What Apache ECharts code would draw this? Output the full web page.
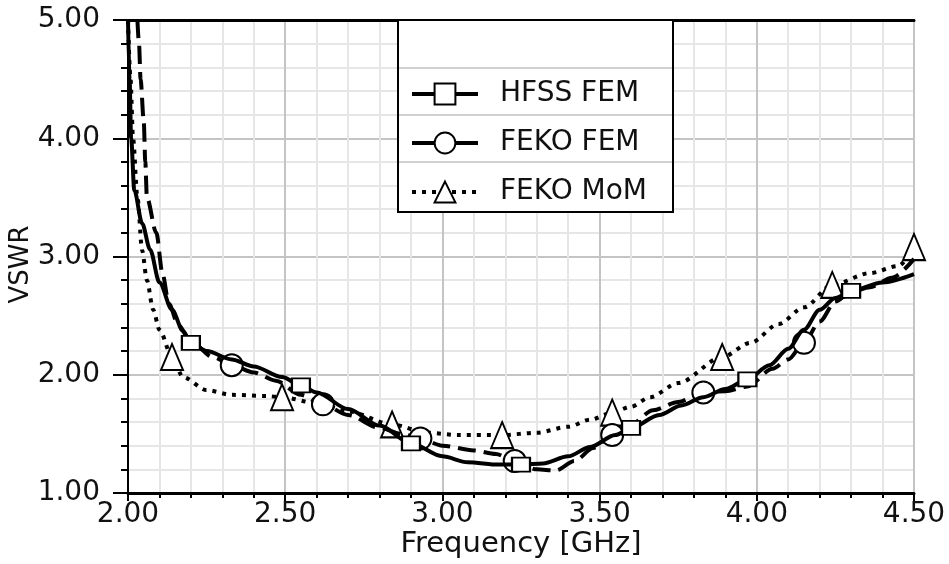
<!DOCTYPE html>
<html lang="en">
<head>
  <meta charset="UTF-8">
  <title>VSWR vs Frequency</title>
  <style>
    html, body { margin: 0; padding: 0; background: #fff; }
    #chart { width: 949px; height: 564px; }
  </style>
</head>
<body>
  <div id="chart"></div>
  <script src="https://cdn.jsdelivr.net/npm/echarts@6/dist/echarts.min.js"></script>
  <script>
    // axis ticks
    const freqTicks = [2.0, 2.5, 3.0, 3.5, 4.0, 4.5];
    const vswrTicks = [1, 2, 3, 4, 5];

    // HFSS FEM (solid, squares)
    const hfssFreq = [2.00, 2.005, 2.01, 2.02, 2.045, 2.07, 2.10, 2.14, 2.175, 2.20, 2.25, 2.33, 2.40, 2.49, 2.55, 2.60, 2.70, 2.80, 2.90, 3.00, 3.08, 3.18, 3.25, 3.32, 3.40, 3.47, 3.55, 3.60, 3.69, 3.76, 3.83, 3.90, 3.97, 4.04, 4.10, 4.15, 4.20, 4.25, 4.30, 4.40, 4.50];
    const hfssVswr = [5.00, 4.50, 4.00, 3.56, 3.28, 3.06, 2.78, 2.55, 2.37, 2.27, 2.20, 2.13, 2.07, 1.98, 1.91, 1.85, 1.71, 1.57, 1.42, 1.31, 1.26, 1.24, 1.24, 1.25, 1.31, 1.39, 1.49, 1.55, 1.66, 1.74, 1.81, 1.88, 1.96, 2.08, 2.22, 2.38, 2.55, 2.65, 2.71, 2.78, 2.85];
    const hfssMarks = [2.20, 2.55, 2.90, 3.25, 3.60, 3.97, 4.30];

    // FEKO FEM (dashed in plot, circles)
    const fekoFemFreq = [2.03, 2.035, 2.04, 2.05, 2.055, 2.06, 2.09, 2.11, 2.13, 2.16, 2.20, 2.27, 2.33, 2.40, 2.47, 2.55, 2.62, 2.70, 2.80, 2.87, 2.93, 3.00, 3.10, 3.17, 3.23, 3.30, 3.36, 3.42, 3.48, 3.54, 3.60, 3.67, 3.75, 3.83, 3.90, 3.97, 4.05, 4.10, 4.15, 4.20, 4.25, 4.30, 4.36, 4.43, 4.50];
    const fekoFemVswr = [5.00, 4.80, 4.50, 4.15, 3.80, 3.50, 3.20, 2.85, 2.60, 2.42, 2.28, 2.15, 2.08, 2.02, 1.95, 1.83, 1.75, 1.66, 1.55, 1.50, 1.46, 1.40, 1.36, 1.33, 1.27, 1.20, 1.19, 1.27, 1.38, 1.49, 1.58, 1.70, 1.77, 1.85, 1.86, 1.90, 2.05, 2.13, 2.27, 2.45, 2.62, 2.70, 2.74, 2.82, 2.98];
    const fekoFemMarks = [2.33, 2.62, 2.93, 3.23, 3.54, 3.83, 4.15];

    // FEKO MoM (dotted, triangles)
    const fekoMomFreq = [2.00, 2.008, 2.016, 2.03, 2.045, 2.06, 2.08, 2.10, 2.14, 2.175, 2.25, 2.33, 2.44, 2.49, 2.60, 2.70, 2.84, 2.95, 3.05, 3.19, 3.30, 3.40, 3.47, 3.54, 3.60, 3.66, 3.75, 3.89, 3.98, 4.07, 4.15, 4.24, 4.36, 4.45, 4.50];
    const fekoMomVswr = [5.00, 4.50, 4.00, 3.50, 3.05, 2.80, 2.55, 2.38, 2.15, 1.98, 1.87, 1.83, 1.82, 1.81, 1.76, 1.69, 1.58, 1.51, 1.49, 1.49, 1.51, 1.56, 1.62, 1.68, 1.73, 1.81, 1.93, 2.15, 2.27, 2.43, 2.57, 2.76, 2.86, 2.92, 3.08];
    const fekoMomMarks = [2.14, 2.49, 2.84, 3.19, 3.54, 3.89, 4.24, 4.50];

    const FONT = 'DejaVu Sans';

    function buildData(freq, vswr, marks) {
      return freq.map(function (f, i) {
        const item = { value: [f, vswr[i]] };
        if (marks.indexOf(f) < 0) item.symbol = 'none';
        return item;
      });
    }

    const chart = echarts.init(document.getElementById('chart'));

    const option = {
      animation: false,
      backgroundColor: '#fff',
      grid: {
        left: 128, right: 35, top: 20, bottom: 71,
        outerBoundsMode: 'none',
        containLabel: false,
        show: true, borderColor: '#555', borderWidth: 2
      },
      xAxis: [{
        type: 'value',
        min: freqTicks[0],
        max: freqTicks[freqTicks.length - 1],
        interval: 0.5,
        name: 'Frequency [GHz]',
        nameLocation: 'middle',
        nameGap: 37,
        nameMoveOverlap: false,
        nameTextStyle: { fontFamily: FONT, fontSize: 29, color: '#111' },
        axisLine: { lineStyle: { color: '#000', width: 3 } },
        axisTick: { length: 8, lineStyle: { color: '#000', width: 2 } },
        minorTick: { show: true, splitNumber: 5, length: 5, lineStyle: { color: '#000', width: 2 } },
        axisLabel: {
          margin: 8, fontFamily: FONT, fontSize: 28, color: '#111',
          hideOverlap: false,
          formatter: function (v) { return v.toFixed(2); }
        },
        splitLine: { lineStyle: { color: '#c4c4c4', width: 2 } },
        minorSplitLine: { show: true, lineStyle: { color: '#e6e6e6', width: 2 } }
      }, {
        type: 'value',
        position: 'top',
        min: freqTicks[0],
        max: freqTicks[freqTicks.length - 1],
        axisLine: { lineStyle: { color: '#000', width: 3 } },
        axisTick: { show: false },
        axisLabel: { show: false },
        splitLine: { show: false }
      }],
      yAxis: {
        type: 'value',
        min: vswrTicks[0],
        max: vswrTicks[vswrTicks.length - 1],
        interval: 1,
        name: 'VSWR',
        nameLocation: 'middle',
        nameGap: 94,
        nameMoveOverlap: false,
        nameTextStyle: { fontFamily: FONT, fontSize: 26, color: '#111', padding: [0, 16, 0, 0] },
        axisLine: { lineStyle: { color: '#000', width: 2 } },
        axisTick: { length: 15, lineStyle: { color: '#000', width: 2 } },
        minorTick: { show: true, splitNumber: 5, length: 7, lineStyle: { color: '#000', width: 2 } },
        axisLabel: {
          margin: 28, fontFamily: FONT, fontSize: 28, color: '#111',
          hideOverlap: false,
          formatter: function (v) { return v.toFixed(2); }
        },
        splitLine: { lineStyle: { color: '#c4c4c4', width: 2 } },
        minorSplitLine: { show: true, lineStyle: { color: '#e6e6e6', width: 2 } }
      },
      graphic: [
        {
          type: 'rect', z: 3,
          shape: { x: 398, y: 20, width: 275, height: 192 },
          style: { fill: '#fff', stroke: '#000', lineWidth: 2 }
        },
        { type: 'line', z: 3, shape: { x1: 399, y1: 68, x2: 672, y2: 68 }, style: { stroke: '#d0d0d0', lineWidth: 2 } },
        { type: 'line', z: 3, shape: { x1: 399, y1: 115, x2: 672, y2: 115 }, style: { stroke: '#d0d0d0', lineWidth: 2 } },
        { type: 'line', z: 3, shape: { x1: 399, y1: 162, x2: 672, y2: 162 }, style: { stroke: '#d0d0d0', lineWidth: 2 } }
      ],
      legend: {
        z: 10,
        orient: 'vertical',
        left: 410,
        top: 80,
        padding: 0,
        itemWidth: 66,
        itemHeight: 26,
        itemGap: 21,
        selectedMode: false,
        textStyle: { fontFamily: FONT, fontSize: 28, color: '#111', lineHeight: 26, padding: [0, 0, 0, 17] },
        data: [
          { name: 'HFSS FEM', lineStyle: { width: 4, type: 'solid' } },
          { name: 'FEKO FEM', lineStyle: { width: 4, type: 'solid' } },
          { name: 'FEKO MoM', lineStyle: { width: 4, type: [4, 6] } }
        ]
      },
      series: [
        {
          name: 'HFSS FEM',
          type: 'line',
          data: buildData(hfssFreq, hfssVswr, hfssMarks),
          smooth: 0.3,
          smoothMonotone: 'x',
          symbol: 'emptyRect',
          symbolSize: [18, 14],
          lineStyle: { color: '#000', width: 4 },
          itemStyle: { color: '#000', borderWidth: 1.5 },
          z: 4
        },
        {
          name: 'FEKO FEM',
          type: 'line',
          data: buildData(fekoFemFreq, fekoFemVswr, fekoFemMarks),
          smooth: 0.3,
          smoothMonotone: 'x',
          symbol: 'emptyCircle',
          symbolSize: 22,
          lineStyle: { color: '#000', width: 4, type: [18, 8] },
          itemStyle: { color: '#000', borderWidth: 1.5 },
          z: 3
        },
        {
          name: 'FEKO MoM',
          type: 'line',
          data: buildData(fekoMomFreq, fekoMomVswr, fekoMomMarks),
          smooth: 0.3,
          smoothMonotone: 'x',
          symbol: 'emptyTriangle',
          symbolSize: [22, 26],
          lineStyle: { color: '#000', width: 4, type: [4, 6] },
          itemStyle: { color: '#000', borderWidth: 1.5 },
          z: 2
        }
      ]
    };

    chart.setOption(option);
    window.addEventListener('resize', function () { chart.resize(); });
  </script>
</body>
</html>
